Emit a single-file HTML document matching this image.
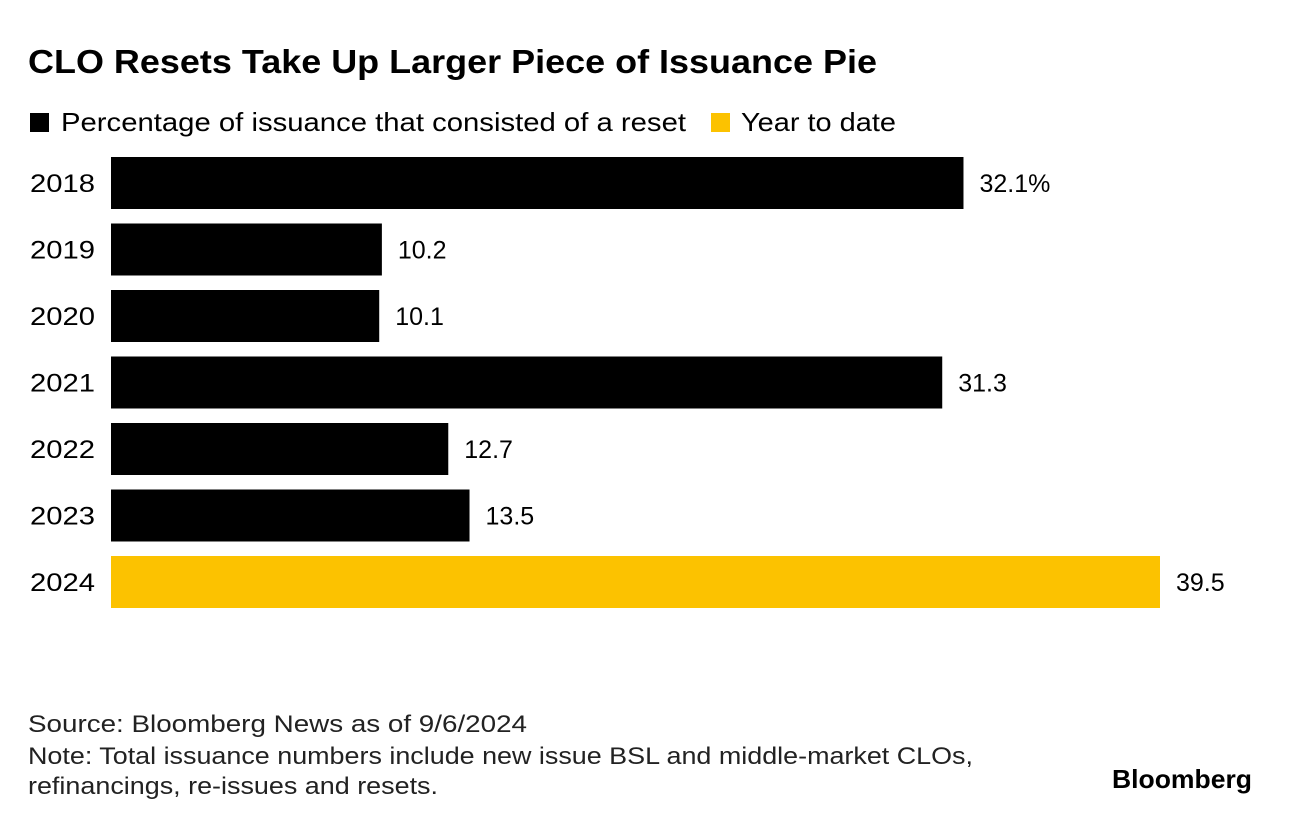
<!DOCTYPE html>
<html><head><meta charset="utf-8"><style>
body{margin:0;background:#fff;width:1292px;height:824px;overflow:hidden;font-family:"Liberation Sans",sans-serif;color:#000}
</style></head><body>
<svg width="1292" height="824" xmlns="http://www.w3.org/2000/svg">
<text x="28" y="73" font-size="33" font-weight="bold" font-family="Liberation Sans" textLength="849" lengthAdjust="spacingAndGlyphs">CLO Resets Take Up Larger Piece of Issuance Pie</text>
<g>
<rect x="30" y="113" width="19" height="19" fill="#000"/>
<text x="61" y="131" font-size="26" font-family="Liberation Sans" textLength="625" lengthAdjust="spacingAndGlyphs">Percentage of issuance that consisted of a reset</text>
<rect x="711" y="113" width="19" height="19" fill="#fcc200"/>
<text x="741" y="131" font-size="26" font-family="Liberation Sans" textLength="155" lengthAdjust="spacingAndGlyphs">Year to date</text>
</g>
<g id="bars"></g>
<g font-size="24" font-family="Liberation Sans" fill="#222">
<text x="28" y="732" textLength="499" lengthAdjust="spacingAndGlyphs">Source: Bloomberg News as of 9/6/2024</text>
<text x="28" y="764" textLength="945" lengthAdjust="spacingAndGlyphs">Note: Total issuance numbers include new issue BSL and middle-market CLOs,</text>
<text x="28" y="794" textLength="410" lengthAdjust="spacingAndGlyphs">refinancings, re-issues and resets.</text>
</g>
<text x="1112" y="788" font-size="26" font-weight="bold" font-family="Liberation Sans" textLength="140" lengthAdjust="spacingAndGlyphs">Bloomberg</text>
</svg>
<script>
const categories=["2018","2019","2020","2021","2022","2023","2024"];
const values=[32.1,10.2,10.1,31.3,12.7,13.5,39.5];
const valueLabels=["32.1%","10.2","10.1","31.3","12.7","13.5","39.5"];
const ytdFlags=[false,false,false,false,false,false,true];
const x0=111, pxPerUnit=(1160-111)/39.5, y0=157, step=66.5, bh=52;
const xs=v=>x0+v*pxPerUnit;
const ys=i=>y0+i*step;
const g=document.getElementById('bars');
const NS="http://www.w3.org/2000/svg";
categories.forEach((c,i)=>{
  const r=document.createElementNS(NS,'rect');
  r.setAttribute('x',x0);r.setAttribute('y',ys(i));
  r.setAttribute('width',xs(values[i])-x0);r.setAttribute('height',bh);
  r.setAttribute('fill',ytdFlags[i]?'#fcc200':'#000');
  
  
  g.appendChild(r);
  const t=document.createElementNS(NS,'text');
  t.setAttribute('x',30);t.setAttribute('y',ys(i)+bh/2+9);
  t.setAttribute('font-size','25');t.setAttribute('font-family','Liberation Sans');
  t.setAttribute('textLength','65');t.setAttribute('lengthAdjust','spacingAndGlyphs');
  t.textContent=c;
  
  
  g.appendChild(t);
  const v=document.createElementNS(NS,'text');
  v.setAttribute('x',xs(values[i])+16);v.setAttribute('y',ys(i)+bh/2+9);
  v.setAttribute('font-size','25');v.setAttribute('font-family','Liberation Sans');
  v.textContent=valueLabels[i];
  
  
  g.appendChild(v);
});
</script>
</body></html>
